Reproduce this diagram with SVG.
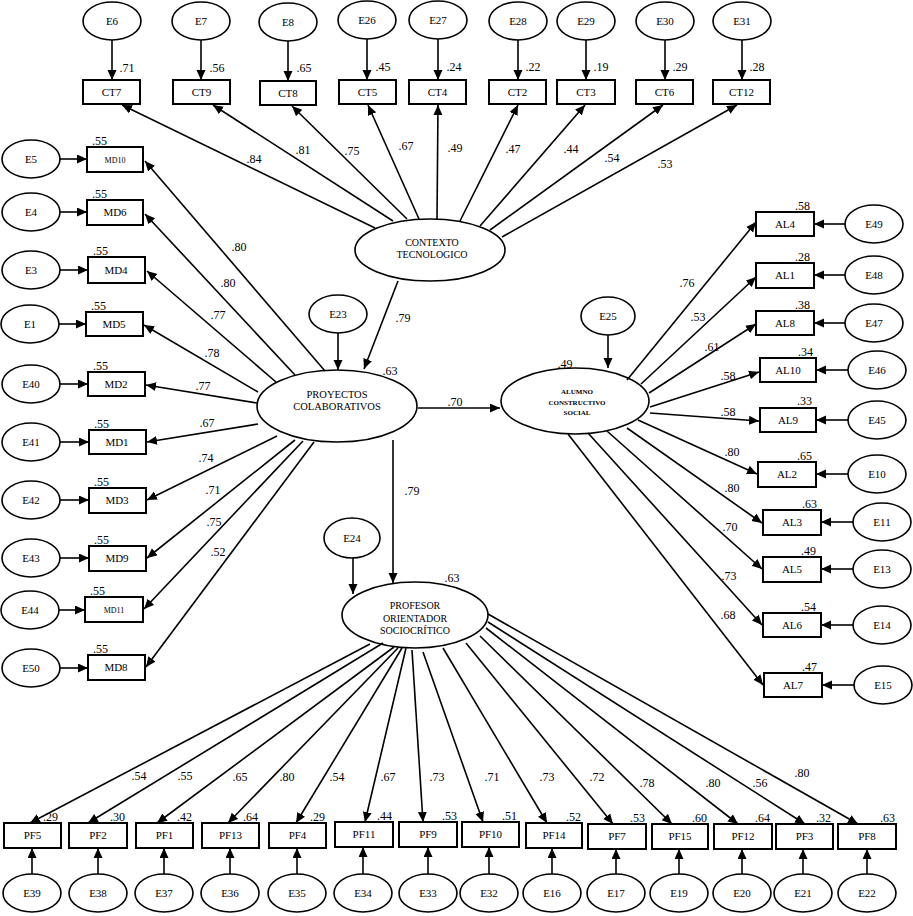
<svg xmlns="http://www.w3.org/2000/svg" width="913" height="916" viewBox="0 0 913 916">
<style>
.box{fill:#fff;stroke:#000;stroke-width:2}
.ell{fill:#fff;stroke:#000;stroke-width:1.6}
.t{font-family:"Liberation Serif","Times New Roman",serif;font-size:11px;text-anchor:middle;fill:#000}
.ts{font-family:"Liberation Serif","Times New Roman",serif;font-size:8px;text-anchor:middle;fill:#000}
.lt{font-family:"Liberation Serif","Times New Roman",serif;font-size:10.5px;text-anchor:middle;fill:#000}
.la{font-family:"Liberation Serif","Times New Roman",serif;font-size:7px;font-weight:bold;text-anchor:middle;fill:#000}
.l{font-family:"Liberation Serif","Times New Roman",serif;font-size:12px;text-anchor:middle;fill:#000}
.le{font-family:"Liberation Serif","Times New Roman",serif;font-size:12px;text-anchor:end;fill:#000}
.ls{font-family:"Liberation Serif","Times New Roman",serif;font-size:12px;text-anchor:start;fill:#000}
.c{stroke:#000;stroke-width:1.6;fill:none;marker-end:url(#ah)}
</style>
<defs>
<marker id="ah" markerWidth="11" markerHeight="10" refX="10" refY="4.5" orient="auto" markerUnits="userSpaceOnUse"><path d="M0,0 L10,4.5 L0,9 z" fill="#000"/></marker>
</defs>
<rect width="913" height="916" fill="#fff"/>

<!-- Top row -->
<g id="E6"><ellipse class="ell" cx="112" cy="21" rx="29" ry="19"/><text class="t" x="112" y="25">E6</text></g>
<g id="E7"><ellipse class="ell" cx="201" cy="21" rx="29" ry="19"/><text class="t" x="201" y="25">E7</text></g>
<g id="E8"><ellipse class="ell" cx="288" cy="22" rx="29" ry="19"/><text class="t" x="288" y="26">E8</text></g>
<g id="E26"><ellipse class="ell" cx="367" cy="20" rx="29" ry="19"/><text class="t" x="367" y="24">E26</text></g>
<g id="E27"><ellipse class="ell" cx="438" cy="20" rx="29" ry="19"/><text class="t" x="438" y="24">E27</text></g>
<g id="E28"><ellipse class="ell" cx="518" cy="21" rx="29" ry="19"/><text class="t" x="518" y="25">E28</text></g>
<g id="E29"><ellipse class="ell" cx="586" cy="21" rx="29" ry="19"/><text class="t" x="586" y="25">E29</text></g>
<g id="E30"><ellipse class="ell" cx="665" cy="21" rx="29" ry="19"/><text class="t" x="665" y="25">E30</text></g>
<g id="E31"><ellipse class="ell" cx="742" cy="21" rx="29" ry="19"/><text class="t" x="742" y="25">E31</text></g>

<g id="CT7"><rect class="box" x="83" y="80" width="57" height="24"/><text class="t" x="111.5" y="96">CT7</text><text class="l" x="127" y="72">.71</text></g>
<g id="CT9"><rect class="box" x="173" y="80" width="57" height="24"/><text class="t" x="201.5" y="96">CT9</text><text class="l" x="217" y="72">.56</text></g>
<g id="CT8"><rect class="box" x="260" y="81" width="56" height="24"/><text class="t" x="288" y="97">CT8</text><text class="l" x="304" y="72">.65</text></g>
<g id="CT5"><rect class="box" x="339" y="80" width="57" height="24"/><text class="t" x="367.5" y="96">CT5</text><text class="l" x="383" y="71">.45</text></g>
<g id="CT4"><rect class="box" x="409" y="80" width="57" height="24"/><text class="t" x="437.5" y="96">CT4</text><text class="l" x="454" y="71">.24</text></g>
<g id="CT2"><rect class="box" x="489" y="80" width="57" height="24"/><text class="t" x="517.5" y="96">CT2</text><text class="l" x="533" y="71">.22</text></g>
<g id="CT3"><rect class="box" x="557" y="80" width="58" height="24"/><text class="t" x="586" y="96">CT3</text><text class="l" x="601" y="71">.19</text></g>
<g id="CT6"><rect class="box" x="636" y="80" width="57" height="24"/><text class="t" x="664.5" y="96">CT6</text><text class="l" x="680" y="71">.29</text></g>
<g id="CT12"><rect class="box" x="713" y="80" width="57" height="24"/><text class="t" x="741.5" y="96">CT12</text><text class="l" x="757" y="71">.28</text></g>

<!-- Latent variables -->
<g id="CONTEXTO"><ellipse class="ell" cx="430" cy="250" rx="75" ry="31"/><text class="lt" x="432" y="246" style="font-size:10px">CONTEXTO</text><text class="lt" x="432" y="258" style="font-size:10px">TECNOLOGICO</text></g>
<g id="PROYECTOS"><ellipse class="ell" cx="337" cy="406" rx="80" ry="36"/><text class="lt" x="337" y="398">PROYECTOS</text><text class="lt" x="337" y="410">COLABORATIVOS</text><text class="l" x="390" y="375">.63</text></g>
<g id="ALUMNO"><ellipse class="ell" cx="575" cy="401" rx="74" ry="33"/><text class="la" x="577" y="394">ALUMNO</text><text class="la" x="577" y="405">CONSTRUCTIVO</text><text class="la" x="577" y="415">SOCIAL</text><text class="l" x="565" y="368">.49</text></g>
<g id="PROFESOR"><ellipse class="ell" cx="415" cy="615" rx="73" ry="33"/><text class="lt" x="415" y="609" style="font-size:10px">PROFESOR</text><text class="lt" x="415" y="622" style="font-size:10px">ORIENTADOR</text><text class="lt" x="415" y="634" style="font-size:10px">SOCIOCRÍTICO</text><text class="l" x="452" y="582">.63</text></g>
<g id="E23"><ellipse class="ell" cx="338" cy="314" rx="29" ry="19"/><text class="t" x="338" y="318">E23</text></g>
<g id="E25"><ellipse class="ell" cx="608" cy="316" rx="27" ry="19"/><text class="t" x="608" y="320">E25</text></g>
<g id="E24"><ellipse class="ell" cx="352" cy="538" rx="28" ry="20"/><text class="t" x="352" y="542">E24</text></g>

<!-- Left column -->
<g id="E5"><ellipse class="ell" cx="31" cy="159" rx="29" ry="19"/><text class="t" x="31" y="163">E5</text></g>
<g id="E4"><ellipse class="ell" cx="31" cy="212" rx="29" ry="19"/><text class="t" x="31" y="216">E4</text></g>
<g id="E3"><ellipse class="ell" cx="31" cy="270" rx="29" ry="19"/><text class="t" x="31" y="274">E3</text></g>
<g id="E1"><ellipse class="ell" cx="30" cy="324" rx="29" ry="19"/><text class="t" x="30" y="328">E1</text></g>
<g id="E40"><ellipse class="ell" cx="31" cy="384" rx="29" ry="19"/><text class="t" x="31" y="388">E40</text></g>
<g id="E41"><ellipse class="ell" cx="31" cy="442" rx="29" ry="19"/><text class="t" x="31" y="446">E41</text></g>
<g id="E42"><ellipse class="ell" cx="31" cy="500" rx="29" ry="19"/><text class="t" x="31" y="504">E42</text></g>
<g id="E43"><ellipse class="ell" cx="31" cy="558" rx="29" ry="19"/><text class="t" x="31" y="562">E43</text></g>
<g id="E44"><ellipse class="ell" cx="30" cy="610" rx="29" ry="19"/><text class="t" x="30" y="614">E44</text></g>
<g id="E50"><ellipse class="ell" cx="31" cy="668" rx="29" ry="19"/><text class="t" x="31" y="672">E50</text></g>

<g id="MD10"><rect class="box" x="87" y="147" width="56" height="25"/><text class="ts" x="115" y="163">MD10</text><text class="ls" x="92" y="145">.55</text></g>
<g id="MD6"><rect class="box" x="87" y="200" width="56" height="25"/><text class="t" x="115" y="216">MD6</text><text class="ls" x="92" y="198">.55</text></g>
<g id="MD4"><rect class="box" x="88" y="257" width="57" height="26"/><text class="t" x="116" y="274">MD4</text><text class="ls" x="93" y="255">.55</text></g>
<g id="MD5"><rect class="box" x="86" y="312" width="57" height="24"/><text class="t" x="114" y="328">MD5</text><text class="ls" x="91" y="310">.55</text></g>
<g id="MD2"><rect class="box" x="88" y="372" width="57" height="24"/><text class="t" x="116" y="388">MD2</text><text class="ls" x="93" y="370">.55</text></g>
<g id="MD1"><rect class="box" x="89" y="430" width="57" height="24"/><text class="t" x="117" y="446">MD1</text><text class="ls" x="94" y="428">.55</text></g>
<g id="MD3"><rect class="box" x="89" y="488" width="57" height="25"/><text class="t" x="117" y="504">MD3</text><text class="ls" x="94" y="486">.55</text></g>
<g id="MD9"><rect class="box" x="89" y="546" width="57" height="25"/><text class="t" x="117" y="562">MD9</text><text class="ls" x="94" y="544">.55</text></g>
<g id="MD11"><rect class="box" x="85" y="597" width="58" height="25"/><text class="ts" x="114" y="613">MD11</text><text class="ls" x="90" y="595">.55</text></g>
<g id="MD8"><rect class="box" x="88" y="655" width="57" height="25"/><text class="t" x="116" y="671">MD8</text><text class="ls" x="93" y="653">.55</text></g>

<!-- Right column -->
<g id="AL4"><rect class="box" x="756" y="212" width="58" height="24"/><text class="t" x="785" y="228">AL4</text><text class="le" x="810" y="210">.58</text></g>
<g id="AL1"><rect class="box" x="756" y="263" width="58" height="25"/><text class="t" x="785" y="279">AL1</text><text class="le" x="810" y="261">.28</text></g>
<g id="AL8"><rect class="box" x="756" y="311" width="58" height="24"/><text class="t" x="785" y="327">AL8</text><text class="le" x="810" y="309">.38</text></g>
<g id="AL10"><rect class="box" x="760" y="358" width="56" height="24"/><text class="t" x="788" y="374">AL10</text><text class="le" x="813" y="356">.34</text></g>
<g id="AL9"><rect class="box" x="760" y="408" width="56" height="24"/><text class="t" x="788" y="424">AL9</text><text class="le" x="812" y="405">.33</text></g>
<g id="AL2"><rect class="box" x="758" y="462" width="58" height="25"/><text class="t" x="787" y="478">AL2</text><text class="le" x="812" y="460">.65</text></g>
<g id="AL3"><rect class="box" x="763" y="510" width="58" height="25"/><text class="t" x="792" y="526">AL3</text><text class="le" x="817" y="508">.63</text></g>
<g id="AL5"><rect class="box" x="763" y="557" width="58" height="25"/><text class="t" x="792" y="573">AL5</text><text class="le" x="816" y="555">.49</text></g>
<g id="AL6"><rect class="box" x="763" y="613" width="58" height="24"/><text class="t" x="792" y="629">AL6</text><text class="le" x="816" y="611">.54</text></g>
<g id="AL7"><rect class="box" x="764" y="673" width="58" height="24"/><text class="t" x="793" y="689">AL7</text><text class="le" x="817" y="671">.47</text></g>

<g id="E49"><ellipse class="ell" cx="874" cy="224" rx="29" ry="19"/><text class="t" x="874" y="228">E49</text></g>
<g id="E48"><ellipse class="ell" cx="874" cy="275" rx="29" ry="19"/><text class="t" x="874" y="279">E48</text></g>
<g id="E47"><ellipse class="ell" cx="874" cy="323" rx="29" ry="19"/><text class="t" x="874" y="327">E47</text></g>
<g id="E46"><ellipse class="ell" cx="877" cy="370" rx="29" ry="19"/><text class="t" x="877" y="374">E46</text></g>
<g id="E45"><ellipse class="ell" cx="877" cy="420" rx="29" ry="19"/><text class="t" x="877" y="424">E45</text></g>
<g id="E10"><ellipse class="ell" cx="877" cy="474" rx="29" ry="19"/><text class="t" x="877" y="478">E10</text></g>
<g id="E11"><ellipse class="ell" cx="882" cy="522" rx="29" ry="19"/><text class="t" x="882" y="526">E11</text></g>
<g id="E13"><ellipse class="ell" cx="882" cy="569" rx="29" ry="19"/><text class="t" x="882" y="573">E13</text></g>
<g id="E14"><ellipse class="ell" cx="882" cy="625" rx="29" ry="19"/><text class="t" x="882" y="629">E14</text></g>
<g id="E15"><ellipse class="ell" cx="883" cy="685" rx="29" ry="19"/><text class="t" x="883" y="689">E15</text></g>

<!-- Bottom row -->
<g id="PF5"><rect class="box" x="4" y="823" width="57" height="25"/><text class="t" x="32.5" y="839">PF5</text><text class="le" x="58" y="821">.29</text></g>
<g id="PF2"><rect class="box" x="69" y="823" width="58" height="25"/><text class="t" x="98" y="839">PF2</text><text class="le" x="125" y="821">.30</text></g>
<g id="PF1"><rect class="box" x="136" y="823" width="57" height="25"/><text class="t" x="164.5" y="839">PF1</text><text class="le" x="192" y="821">.42</text></g>
<g id="PF13"><rect class="box" x="202" y="823" width="57" height="25"/><text class="t" x="230.5" y="839">PF13</text><text class="le" x="258" y="821">.64</text></g>
<g id="PF4"><rect class="box" x="269" y="823" width="57" height="25"/><text class="t" x="297.5" y="839">PF4</text><text class="le" x="325" y="821">.29</text></g>
<g id="PF11"><rect class="box" x="335" y="822" width="58" height="25"/><text class="t" x="364" y="838">PF11</text><text class="le" x="392" y="820">.44</text></g>
<g id="PF9"><rect class="box" x="399" y="822" width="58" height="25"/><text class="t" x="428" y="838">PF9</text><text class="le" x="457" y="820">.53</text></g>
<g id="PF10"><rect class="box" x="462" y="822" width="57" height="25"/><text class="t" x="490.5" y="838">PF10</text><text class="le" x="517" y="820">.51</text></g>
<g id="PF14"><rect class="box" x="526" y="823" width="56" height="25"/><text class="t" x="554" y="839">PF14</text><text class="le" x="581" y="821">.52</text></g>
<g id="PF7"><rect class="box" x="588" y="824" width="58" height="25"/><text class="t" x="617" y="840">PF7</text><text class="le" x="645" y="822">.53</text></g>
<g id="PF15"><rect class="box" x="652" y="824" width="56" height="25"/><text class="t" x="680" y="840">PF15</text><text class="le" x="707" y="822">.60</text></g>
<g id="PF12"><rect class="box" x="714" y="824" width="58" height="25"/><text class="t" x="743" y="840">PF12</text><text class="le" x="770" y="822">.64</text></g>
<g id="PF3"><rect class="box" x="776" y="824" width="57" height="25"/><text class="t" x="804.5" y="840">PF3</text><text class="le" x="831" y="822">.32</text></g>
<g id="PF8"><rect class="box" x="838" y="824" width="58" height="25"/><text class="t" x="867" y="840">PF8</text><text class="le" x="895" y="822">.63</text></g>

<g id="E39"><ellipse class="ell" cx="32" cy="893" rx="29" ry="19"/><text class="t" x="32" y="897">E39</text></g>
<g id="E38"><ellipse class="ell" cx="98" cy="893" rx="29" ry="19"/><text class="t" x="98" y="897">E38</text></g>
<g id="E37"><ellipse class="ell" cx="164" cy="893" rx="29" ry="19"/><text class="t" x="164" y="897">E37</text></g>
<g id="E36"><ellipse class="ell" cx="230" cy="893" rx="29" ry="19"/><text class="t" x="230" y="897">E36</text></g>
<g id="E35"><ellipse class="ell" cx="297" cy="893" rx="29" ry="19"/><text class="t" x="297" y="897">E35</text></g>
<g id="E34"><ellipse class="ell" cx="363" cy="893" rx="29" ry="19"/><text class="t" x="363" y="897">E34</text></g>
<g id="E33"><ellipse class="ell" cx="428" cy="893" rx="29" ry="19"/><text class="t" x="428" y="897">E33</text></g>
<g id="E32"><ellipse class="ell" cx="489" cy="893" rx="29" ry="19"/><text class="t" x="489" y="897">E32</text></g>
<g id="E16"><ellipse class="ell" cx="552" cy="893" rx="29" ry="19"/><text class="t" x="552" y="897">E16</text></g>
<g id="E17"><ellipse class="ell" cx="616" cy="893" rx="29" ry="19"/><text class="t" x="616" y="897">E17</text></g>
<g id="E19"><ellipse class="ell" cx="679" cy="893" rx="29" ry="19"/><text class="t" x="679" y="897">E19</text></g>
<g id="E20"><ellipse class="ell" cx="742" cy="893" rx="29" ry="19"/><text class="t" x="742" y="897">E20</text></g>
<g id="E21"><ellipse class="ell" cx="803" cy="893" rx="29" ry="19"/><text class="t" x="803" y="897">E21</text></g>
<g id="E22"><ellipse class="ell" cx="867" cy="893" rx="29" ry="19"/><text class="t" x="867" y="897">E22</text></g>

<g id="connectors">
<!-- errors to CT -->
<path class="c" d="M112,40 L112,80"/>
<path class="c" d="M201,40 L201,80"/>
<path class="c" d="M288,41 L288,81"/>
<path class="c" d="M367,39 L367,80"/>
<path class="c" d="M438,39 L438,80"/>
<path class="c" d="M518,40 L518,80"/>
<path class="c" d="M586,40 L586,80"/>
<path class="c" d="M665,40 L665,80"/>
<path class="c" d="M742,40 L742,80"/>
<!-- CONTEXTO to CT -->
<path class="c" d="M375,228 L122,105"/>
<path class="c" d="M393,221 L213,105"/>
<path class="c" d="M407,219 L292,106"/>
<path class="c" d="M419,219 L368,105"/>
<path class="c" d="M437,219 L438,105"/>
<path class="c" d="M460,221 L518,105"/>
<path class="c" d="M480,226 L585,105"/>
<path class="c" d="M490,230 L663,105"/>
<path class="c" d="M502,237 L737,105"/>
<!-- structural -->
<path class="c" d="M398,281 L364,369"/>
<path class="c" d="M338,333 L338,370"/>
<path class="c" d="M418,408 L500,408"/>
<path class="c" d="M608,335 L608,368"/>
<path class="c" d="M393,440 L393,583"/>
<path class="c" d="M353,558 L353,594"/>
<!-- errors to MD -->
<path class="c" d="M60,159 L87,159"/>
<path class="c" d="M60,212 L87,212"/>
<path class="c" d="M60,270 L88,270"/>
<path class="c" d="M59,324 L86,324"/>
<path class="c" d="M60,384 L88,384"/>
<path class="c" d="M60,442 L89,442"/>
<path class="c" d="M60,500 L89,500"/>
<path class="c" d="M60,558 L89,558"/>
<path class="c" d="M59,610 L85,610"/>
<path class="c" d="M60,668 L88,668"/>
<!-- PROYECTOS to MD -->
<path class="c" d="M325,371 L145,161"/>
<path class="c" d="M295,375 L145,214"/>
<path class="c" d="M276,382 L147,271"/>
<path class="c" d="M258,392 L144,325"/>
<path class="c" d="M257,403 L146,385"/>
<path class="c" d="M258,424 L147,442"/>
<path class="c" d="M277,436 L147,500"/>
<path class="c" d="M295,440 L147,558"/>
<path class="c" d="M303,441 L144,609"/>
<path class="c" d="M314,442 L146,667"/>
<!-- ALUMNO to AL -->
<path class="c" d="M627,380 L756,222"/>
<path class="c" d="M641,384 L756,277"/>
<path class="c" d="M649,393 L756,324"/>
<path class="c" d="M650,407 L759,372"/>
<path class="c" d="M650,413 L759,421"/>
<path class="c" d="M638,420 L757,474"/>
<path class="c" d="M627,428 L762,523"/>
<path class="c" d="M607,431 L762,569"/>
<path class="c" d="M588,433 L762,625"/>
<path class="c" d="M568,434 L763,685"/>
<!-- errors to AL -->
<path class="c" d="M845,224 L814,224"/>
<path class="c" d="M845,275 L814,275"/>
<path class="c" d="M845,323 L814,323"/>
<path class="c" d="M848,370 L816,370"/>
<path class="c" d="M848,420 L816,420"/>
<path class="c" d="M848,474 L816,474"/>
<path class="c" d="M853,522 L821,522"/>
<path class="c" d="M853,569 L821,569"/>
<path class="c" d="M853,625 L821,625"/>
<path class="c" d="M854,685 L822,685"/>
<!-- PROFESOR to PF -->
<path class="c" d="M370,644 L30,823"/>
<path class="c" d="M383,643 L88,823"/>
<path class="c" d="M394,647 L157,823"/>
<path class="c" d="M398,648 L228,823"/>
<path class="c" d="M402,648 L296,823"/>
<path class="c" d="M406,648 L365,822"/>
<path class="c" d="M412,650 L423,822"/>
<path class="c" d="M423,652 L483,822"/>
<path class="c" d="M443,648 L547,823"/>
<path class="c" d="M466,643 L613,824"/>
<path class="c" d="M480,636 L672,824"/>
<path class="c" d="M486,628 L738,824"/>
<path class="c" d="M488,622 L805,824"/>
<path class="c" d="M488,614 L858,824"/>
<!-- errors to PF -->
<path class="c" d="M32,874 L32,848"/>
<path class="c" d="M98,874 L98,848"/>
<path class="c" d="M164,874 L164,848"/>
<path class="c" d="M230,874 L230,848"/>
<path class="c" d="M297,874 L297,848"/>
<path class="c" d="M363,874 L363,847"/>
<path class="c" d="M428,874 L428,847"/>
<path class="c" d="M489,874 L489,847"/>
<path class="c" d="M552,874 L552,848"/>
<path class="c" d="M616,874 L616,849"/>
<path class="c" d="M679,874 L679,849"/>
<path class="c" d="M742,874 L742,849"/>
<path class="c" d="M803,874 L803,849"/>
<path class="c" d="M867,874 L867,849"/>
</g>

<g id="path-labels">
<text class="l" x="254" y="163">.84</text>
<text class="l" x="303" y="154">.81</text>
<text class="l" x="352" y="155">.75</text>
<text class="l" x="406" y="150">.67</text>
<text class="l" x="455" y="152">.49</text>
<text class="l" x="513" y="153">.47</text>
<text class="l" x="571" y="153">.44</text>
<text class="l" x="612" y="162">.54</text>
<text class="l" x="665" y="168">.53</text>
<text class="l" x="403" y="322">.79</text>
<text class="l" x="455" y="406">.70</text>
<text class="l" x="412" y="495">.79</text>
<text class="l" x="239" y="251">.80</text>
<text class="l" x="228" y="287">.80</text>
<text class="l" x="218" y="319">.77</text>
<text class="l" x="212" y="357">.78</text>
<text class="l" x="203" y="390">.77</text>
<text class="l" x="207" y="427">.67</text>
<text class="l" x="206" y="462">.74</text>
<text class="l" x="213" y="494">.71</text>
<text class="l" x="214" y="526">.75</text>
<text class="l" x="218" y="556">.52</text>
<text class="l" x="687" y="287">.76</text>
<text class="l" x="698" y="321">.53</text>
<text class="l" x="712" y="351">.61</text>
<text class="l" x="728" y="380">.58</text>
<text class="l" x="728" y="416">.58</text>
<text class="l" x="732" y="456">.80</text>
<text class="l" x="732" y="492">.80</text>
<text class="l" x="730" y="531">.70</text>
<text class="l" x="729" y="580">.73</text>
<text class="l" x="728" y="619">.68</text>
<text class="l" x="139" y="780">.54</text>
<text class="l" x="185" y="780">.55</text>
<text class="l" x="240" y="781">.65</text>
<text class="l" x="287" y="781">.80</text>
<text class="l" x="337" y="781">.54</text>
<text class="l" x="388" y="781">.67</text>
<text class="l" x="437" y="781">.73</text>
<text class="l" x="492" y="781">.71</text>
<text class="l" x="547" y="781">.73</text>
<text class="l" x="597" y="781">.72</text>
<text class="l" x="647" y="787">.78</text>
<text class="l" x="713" y="787">.80</text>
<text class="l" x="760" y="787">.56</text>
<text class="l" x="802" y="777">.80</text>
</g>
</svg>
